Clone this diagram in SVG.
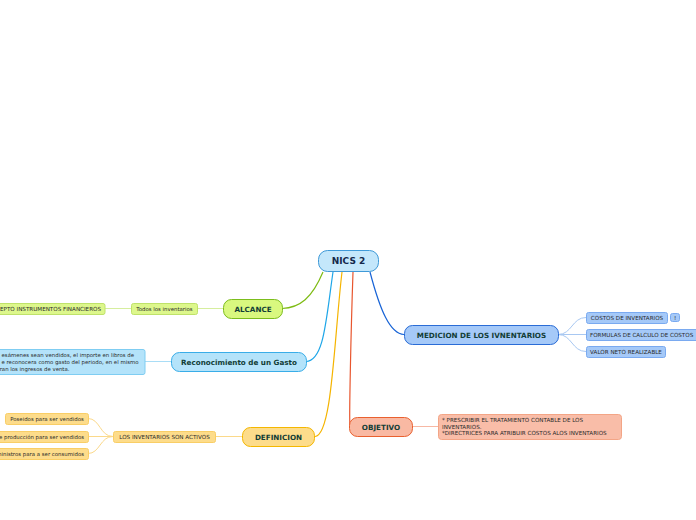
<svg xmlns="http://www.w3.org/2000/svg" width="696" height="520" viewBox="0 0 696 520">
<style>
text{font-family:"DejaVu Sans",Verdana,sans-serif;}
.main{font-size:7.2px;font-weight:bold;fill:#123d36;text-anchor:middle;}
.sub{font-size:5.6px;fill:#2a2a2a;}
.low{font-size:5.4px;}
.subm{text-anchor:middle;}
.end{text-anchor:end;}
.c{fill:none;stroke-width:1.2;}
.s{fill:none;stroke-width:1;}
</style>
<rect width="696" height="520" fill="#fff"/>
<g id="connectors">
<path class="c" stroke="#7dbb12" d="M323,272 C312,298 300,308 282,308.5"/>
<path class="c" stroke="#1ea6e8" d="M333,272 C326,320 324,361 306,361.5"/>
<path class="c" stroke="#f5b400" d="M342,272 C334,340 332,436 315,436.5"/>
<path class="c" stroke="#e8562e" d="M353,272 C351,330 349,420 350,426"/>
<path class="c" stroke="#1763d6" d="M370,272 C380,310 390,334 404,334.5"/>
<path class="s" stroke="#d6ee9e" d="M197,308.5 H223 M105,308.5 H131"/>
<path class="s" stroke="#a9ddf6" d="M145,361.5 H171"/>
<path class="s" stroke="#fbd98a" d="M215,436.5 H242 M113,436.5 C100,436.5 100,418.5 88,418.5 M113,436.5 H88 M113,436.5 C100,436.5 100,453.5 88,453.5"/>
<path class="s" stroke="#f7b8a4" d="M412,426.5 H438"/>
<path class="s" stroke="#a8c8f2" d="M558,334.5 C572,334.5 572,317.5 586,317.5 M558,334.5 H586 M558,334.5 C572,334.5 572,351.5 586,351.5"/>
</g>
<g id="nics2">
<rect x="318.5" y="250.5" width="60" height="21" rx="9" fill="#c4e7fb" stroke="#3f9ad8"/>
<text class="main" x="348.5" y="264.2" style="font-size:9px;fill:#14284b">NICS 2</text>
</g>
<g id="alcance">
<rect x="223.5" y="299.5" width="59" height="19" rx="8" fill="#d9f87f" stroke="#7cbd1d"/>
<text class="main" x="253" y="311.5">ALCANCE</text>
</g>
<g id="todos">
<rect x="131.5" y="303.5" width="66" height="11" rx="2" fill="#ddf78c" stroke="#bfe26a"/>
<text class="sub low subm" x="164.5" y="310.8">Todos los inventarios</text>
</g>
<g id="excepto">
<rect x="-60" y="303.5" width="165" height="11" rx="2" fill="#ddf78c" stroke="#bfe26a"/>
<text class="sub end" x="101" y="310.8">EXCEPTO INSTRUMENTOS FINANCIEROS</text>
</g>
<g id="reconocimiento">
<rect x="171.5" y="352.5" width="135" height="19" rx="8" fill="#b4e3fa" stroke="#39ade8"/>
<text class="main" x="239" y="364.5">Reconocimiento de un Gasto</text>
</g>
<g id="gasto-texto">
<rect x="-60" y="349.5" width="205" height="25" rx="2" fill="#b4e3fa" stroke="#7fcdf2"/>
<text class="sub low end" x="134" y="357">esámenes sean vendidos, el importe en libros de</text>
<text class="sub low end" x="138.5" y="364">e reconocera como gasto del periodo, en el mismo</text>
<text class="sub low end" x="69.5" y="371">ran los ingresos de venta.</text>
</g>
<g id="definicion">
<rect x="242.5" y="427.5" width="72" height="19" rx="8" fill="#fddc8b" stroke="#f4b700"/>
<text class="main" x="278.5" y="439.5">DEFINICION</text>
</g>
<g id="activos">
<rect x="113.5" y="431.5" width="102" height="11" rx="2" fill="#fddc8b" stroke="#f9ce66"/>
<text class="sub subm" x="164.5" y="438.8">LOS INVENTARIOS SON ACTIVOS</text>
</g>
<g id="poseidos">
<rect x="5.5" y="413.5" width="83" height="11" rx="2" fill="#fddc8b" stroke="#f9ce66"/>
<text class="sub low subm" x="47" y="420.8">Poseidos para ser vendidos</text>
</g>
<g id="produccion">
<rect x="-60" y="431.5" width="148.5" height="11" rx="2" fill="#fddc8b" stroke="#f9ce66"/>
<text class="sub low end" x="84" y="438.8">e producción para ser vendidos</text>
</g>
<g id="suministros">
<rect x="-60" y="448.5" width="148.5" height="11" rx="2" fill="#fddc8b" stroke="#f9ce66"/>
<text class="sub low end" x="84" y="455.8">ministros para a ser consumidos</text>
</g>
<g id="objetivo">
<rect x="349.5" y="417.5" width="63" height="19" rx="8" fill="#f9b9a3" stroke="#e9602f"/>
<text class="main" x="381" y="429.5">OBJETIVO</text>
</g>
<g id="objetivo-texto">
<rect x="438.5" y="414.5" width="183" height="25" rx="3" fill="#f9bda8" stroke="#f3a586"/>
<text class="sub" x="442" y="422">* PRESCRIBIR EL TRATAMIENTO CONTABLE DE LOS</text>
<text class="sub" x="442" y="428.5">INVENTARIOS.</text>
<text class="sub" x="442" y="435">*DIRECTRICES PARA ATRIBUIR COSTOS ALOS INVENTARIOS</text>
</g>
<g id="medicion">
<rect x="404.5" y="325.5" width="154" height="19" rx="8" fill="#a5c9f8" stroke="#2a6cd6"/>
<text class="main" x="481.5" y="337.5">MEDICION DE LOS IVNENTARIOS</text>
</g>
<g id="costos">
<rect x="586.5" y="312.5" width="81" height="11" rx="2" fill="#a5c9f8" stroke="#7aaaf0"/>
<text class="sub subm" x="627" y="319.8">COSTOS DE INVENTARIOS</text>
<rect x="670.5" y="313.5" width="9" height="8" rx="2" fill="#a5c9f8" stroke="#7aaaf0"/>
<text class="sub subm" x="675" y="319.5">!</text>
</g>
<g id="formulas">
<rect x="586.5" y="329.5" width="115" height="11" rx="2" fill="#a5c9f8" stroke="#7aaaf0"/>
<text class="sub" x="590" y="336.8">FORMULAS DE CALCULO DE COSTOS</text>
</g>
<g id="valor">
<rect x="586.5" y="346.5" width="79" height="11" rx="2" fill="#a5c9f8" stroke="#7aaaf0"/>
<text class="sub subm" x="626" y="353.8">VALOR NETO REALIZABLE</text>
</g>
</svg>
